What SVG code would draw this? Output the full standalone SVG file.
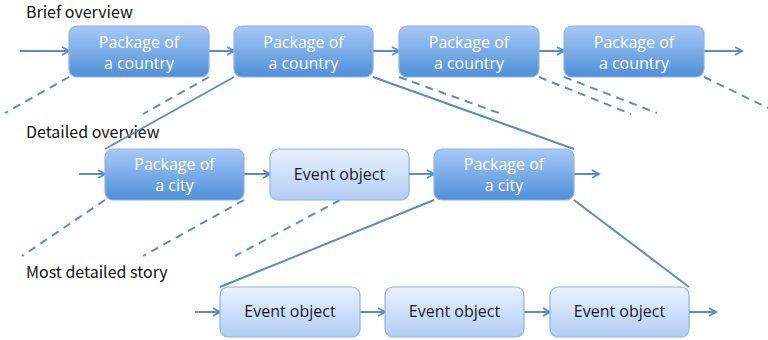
<svg xmlns="http://www.w3.org/2000/svg" width="768" height="340" viewBox="0 0 768 340">
<defs>
<linearGradient id="gDark" x1="0" y1="0" x2="0" y2="1">
<stop offset="0" stop-color="#a7c9f7"/>
<stop offset="1" stop-color="#4f8fd8"/>
</linearGradient>
<linearGradient id="gLight" x1="0" y1="0" x2="0" y2="1">
<stop offset="0" stop-color="#e9f2fe"/>
<stop offset="1" stop-color="#b1cdf5"/>
</linearGradient>
<marker id="arr" markerWidth="10" markerHeight="10" refX="8" refY="5" orient="auto" markerUnits="userSpaceOnUse">
<path d="M1,1 L8,5 L1,9" fill="none" stroke="#5b8cc9" stroke-width="2"/>
</marker>
<style>
.dark rect{fill:url(#gDark);stroke:#8db3e6;stroke-width:1.2}
.light rect{fill:url(#gLight);stroke:#8db3e6;stroke-width:1.2}
.dark text{fill:#ffffff;font-family:"Open Sans","Noto Sans",sans-serif;font-size:16px;text-anchor:middle}
.light text{fill:#1a1a1a;font-family:"Open Sans","Noto Sans",sans-serif;font-size:16px;text-anchor:middle}
.head{fill:#111;font-family:"Noto Sans CJK JP","Noto Sans",sans-serif;font-size:16px}
.c line{stroke:#5b8cc9;stroke-width:2;fill:none}
.c .a{marker-end:url(#arr)}
.c .d{stroke-dasharray:8,6}
</style>
</defs>

<text class="head" x="26" y="18">Brief overview</text>
<text class="head" x="26" y="138">Detailed overview</text>
<text class="head" x="26" y="278">Most detailed story</text>

<g class="c" id="connectors">
<line class="a" x1="20" y1="51" x2="69" y2="51"/>
<line class="a" x1="209" y1="51" x2="234" y2="51"/>
<line class="a" x1="373" y1="51" x2="399" y2="51"/>
<line class="a" x1="539" y1="51" x2="564" y2="51"/>
<line class="a" x1="704" y1="51" x2="742" y2="51"/>
<line class="d" x1="69" y1="77" x2="5" y2="113"/>
<line class="d" x1="209" y1="77" x2="143" y2="114"/>
<line x1="234" y1="77" x2="105" y2="149"/>
<line x1="373" y1="77" x2="574" y2="149"/>
<line class="d" x1="399" y1="77" x2="499" y2="113"/>
<line class="d" x1="539" y1="77" x2="631" y2="114"/>
<line class="d" x1="564" y1="77" x2="657" y2="113"/>
<line class="d" x1="704" y1="77" x2="768" y2="108"/>
<line class="a" x1="79" y1="174" x2="105" y2="174"/>
<line class="a" x1="244" y1="174" x2="270" y2="174"/>
<line class="a" x1="409" y1="174" x2="434" y2="174"/>
<line class="a" x1="574" y1="174" x2="599" y2="174"/>
<line class="d" x1="105" y1="200" x2="22" y2="256"/>
<line class="d" x1="244" y1="200" x2="143" y2="256"/>
<line class="d" x1="340" y1="200" x2="235" y2="256"/>
<line x1="434" y1="200" x2="220" y2="287"/>
<line x1="574" y1="200" x2="689" y2="287"/>
<line class="a" x1="195" y1="312" x2="220" y2="312"/>
<line class="a" x1="360" y1="312" x2="385" y2="312"/>
<line class="a" x1="524" y1="312" x2="550" y2="312"/>
<line class="a" x1="689" y1="312" x2="716" y2="312"/>
</g>

<g id="country1" class="dark"><rect x="69" y="26" width="140" height="51" rx="8"/><text x="139" y="48">Package of</text><text x="139" y="69">a country</text></g>
<g id="country2" class="dark"><rect x="234" y="26" width="139" height="51" rx="8"/><text x="303.5" y="48">Package of</text><text x="303.5" y="69">a country</text></g>
<g id="country3" class="dark"><rect x="399" y="26" width="140" height="51" rx="8"/><text x="469" y="48">Package of</text><text x="469" y="69">a country</text></g>
<g id="country4" class="dark"><rect x="564" y="26" width="140" height="51" rx="8"/><text x="634" y="48">Package of</text><text x="634" y="69">a country</text></g>

<g id="city1" class="dark"><rect x="105" y="149" width="139" height="51" rx="8"/><text x="174.5" y="170">Package of</text><text x="174.5" y="191">a city</text></g>
<g id="event1" class="light"><rect x="270" y="149" width="139" height="51" rx="8"/><text x="339.5" y="180">Event object</text></g>
<g id="city2" class="dark"><rect x="434" y="149" width="140" height="51" rx="8"/><text x="504" y="170">Package of</text><text x="504" y="191">a city</text></g>

<g id="event2" class="light"><rect x="220" y="287" width="140" height="50" rx="8"/><text x="290" y="317">Event object</text></g>
<g id="event3" class="light"><rect x="385" y="287" width="139" height="50" rx="8"/><text x="454.5" y="317">Event object</text></g>
<g id="event4" class="light"><rect x="550" y="287" width="139" height="50" rx="8"/><text x="619.5" y="317">Event object</text></g>
</svg>
